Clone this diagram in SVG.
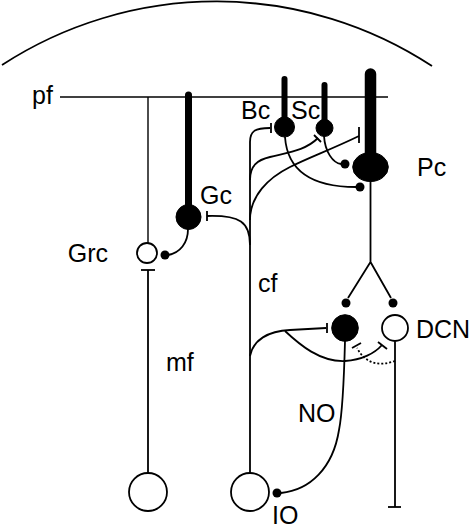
<svg xmlns="http://www.w3.org/2000/svg" width="474" height="530" viewBox="0 0 474 530">
<style>
.ln{fill:none;stroke:#000;stroke-width:1.8;stroke-linecap:butt}
.th{fill:none;stroke:#000;stroke-width:1.4}
.dot{fill:#000}
.blk{fill:#000;stroke:#000}
.opn{fill:#fff;stroke:#000;stroke-width:1.8}
.den{stroke:#000;stroke-linecap:round;fill:none}
.lbl{font-family:"Liberation Sans",Arial,sans-serif;font-size:25px;fill:#000}
.dash{fill:none;stroke:#000;stroke-width:1.8;stroke-dasharray:2 2}
</style>
<path class="ln" d="M 2 65 A 393 393 0 0 1 432 66" stroke-width="2"/>
<g id="pf">
<line class="th" x1="60" y1="97" x2="388" y2="97"/>
<text class="lbl" x="32" y="104">pf</text>
</g>
<g id="connectors">
<line class="th" x1="148" y1="97" x2="148" y2="243"/>
<line class="ln" x1="148" y1="270" x2="148" y2="473"/>
<line class="ln" x1="141" y1="270" x2="155" y2="270"/>
<path class="ln" d="M 188 229 C 188 243, 180 253, 168 255"/>
<circle class="dot" cx="165" cy="255" r="4.5"/>
<path class="ln" d="M 250 473 L 250 142 C 250 131, 255 128, 270 128"/>
<line class="ln" x1="271" y1="123" x2="271" y2="133"/>
<path class="ln" d="M 250 245 C 250 222, 240 215, 207 216"/>
<line class="ln" x1="207" y1="211" x2="207" y2="221"/>
<path class="ln" d="M 250 180 C 250 166, 257 160, 270 157 C 290 152, 306 150, 318 138"/>
<line class="ln" x1="314" y1="135" x2="321" y2="142"/>
<path class="ln" d="M 250 220 C 250 196, 268 178, 290 167 C 310 157, 330 150, 359 136"/>
<line class="ln" x1="359" y1="127" x2="359" y2="143"/>
<path class="ln" d="M 285 137 C 287 165, 305 187, 356 187"/>
<circle class="dot" cx="360" cy="187" r="4.5"/>
<path class="ln" d="M 324 136 C 325 152, 333 163, 341 164"/>
<circle class="dot" cx="345" cy="164" r="4.5"/>
<path class="ln" d="M 370.5 181 L 370.5 262 L 348 298 M 370.5 262 L 391 298"/>
<circle class="dot" cx="346" cy="303" r="4.5"/>
<circle class="dot" cx="393" cy="303" r="4.5"/>
<path class="ln" d="M 250 356 C 253 340, 268 331, 290 330 L 326 328"/>
<line class="ln" x1="327" y1="323" x2="327" y2="333"/>
<path class="ln" d="M 285 331 C 300 345, 320 362, 345 361 C 362 360, 375 353, 382 345"/>
<line class="ln" x1="378" y1="342" x2="387" y2="349"/>
<path class="dash" d="M 395 361 C 381 366, 366 365, 357 348"/>
<line class="ln" x1="352" y1="348" x2="361" y2="343"/>
<path class="ln" d="M 345 341 C 344 380, 342 415, 339 430 C 333 468, 310 490, 281 493"/>
<circle class="dot" cx="277" cy="493" r="4.5"/>
<line class="ln" x1="395" y1="341.5" x2="395" y2="507"/>
<line class="ln" x1="388" y1="507" x2="401" y2="507"/>
</g>
<g id="Grc">
<circle class="opn" cx="147" cy="253" r="10"/>
<text class="lbl" x="108" y="262" text-anchor="end">Grc</text>
</g>
<g id="Gc">
<line class="den" x1="188.5" y1="95" x2="188.5" y2="215" stroke-width="7"/>
<circle class="blk" cx="188.5" cy="217" r="12.5"/>
<text class="lbl" x="200" y="204">Gc</text>
</g>
<g id="Bc">
<line class="den" x1="284.5" y1="79" x2="284.5" y2="125" stroke-width="6"/>
<circle class="blk" cx="284.5" cy="127" r="10"/>
<text class="lbl" x="241" y="119">Bc</text>
</g>
<g id="Sc">
<line class="den" x1="324.5" y1="85" x2="324.5" y2="126" stroke-width="6"/>
<circle class="blk" cx="324.5" cy="128" r="8.5"/>
<text class="lbl" x="291" y="119">Sc</text>
</g>
<g id="Pc">
<line class="den" x1="370.5" y1="74" x2="370.5" y2="160" stroke-width="11.5"/>
<ellipse class="blk" cx="370.5" cy="167" rx="17.8" ry="14.5"/>
<text class="lbl" x="417" y="176">Pc</text>
</g>
<g id="cf-label"><text class="lbl" x="258" y="292">cf</text></g>
<g id="mf-label"><text class="lbl" x="166" y="371">mf</text></g>
<g id="DCN-black">
<circle class="blk" cx="345" cy="328" r="13.3"/>
</g>
<g id="DCN">
<circle class="opn" cx="395" cy="328" r="13"/>
<text class="lbl" x="416" y="338">DCN</text>
</g>
<g id="NO-label"><text class="lbl" x="298" y="422">NO</text></g>
<g id="mf">
<circle class="opn" cx="148" cy="492" r="19"/>
</g>
<g id="IO">
<circle class="opn" cx="250" cy="492" r="19"/>
<text class="lbl" x="272" y="524">IO</text>
</g>
</svg>
